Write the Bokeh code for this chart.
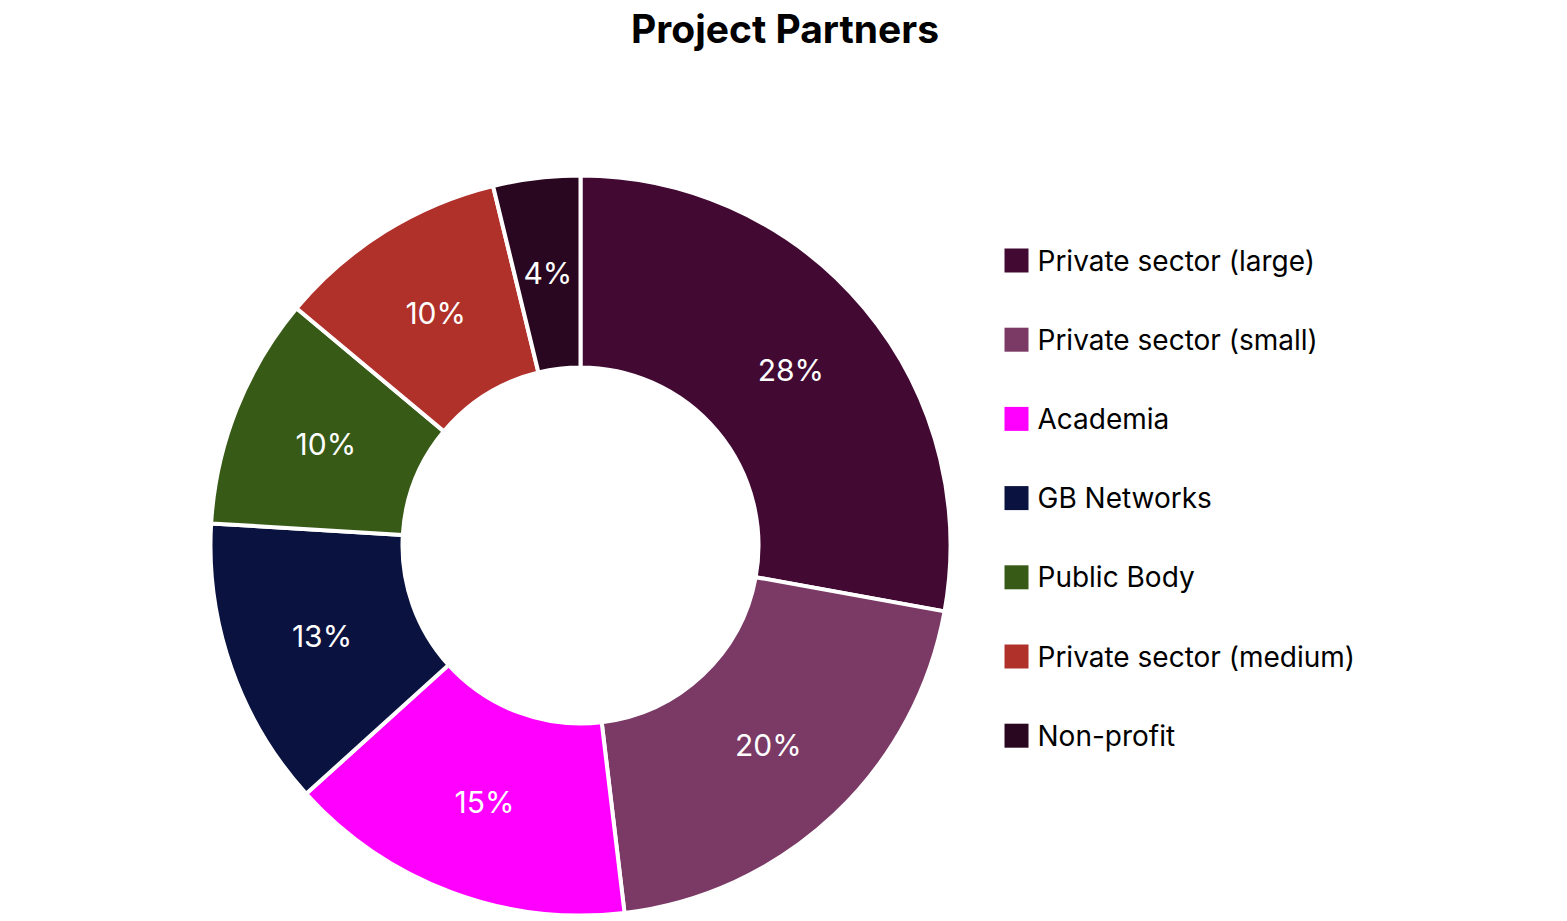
import math
from bokeh.plotting import figure
from bokeh.models import ColumnDataSource, Range1d
from bokeh.core.properties import value
from bokeh.embed import file_html
from bokeh.resources import INLINE

# datos
categorias = ["Private sector (large)", "Private sector (small)", "Academia",
              "GB Networks", "Public Body", "Private sector (medium)", "Non-profit"]
cantidades = [22, 16, 12, 10, 8, 8, 3]
colores = ["#420a33", "#7a3a65", "#ff00ff", "#0a1240", "#385a17", "#b0302a", "#2a0720"]
titulo = "Project Partners"

FUENTE = "Inter"
W, H = 1567, 921
cx, cy = 580, H - 545       # centro del anillo
r_in, r_out = 178, 370

total = sum(cantidades)
inicio, fin, medio, etiquetas = [], [], [], []
acum = 0
for c in cantidades:
    a0 = math.pi / 2 - 2 * math.pi * acum / total
    acum += c
    a1 = math.pi / 2 - 2 * math.pi * acum / total
    inicio.append(a0)
    fin.append(a1)
    medio.append((a0 + a1) / 2)
    etiquetas.append(f"{round(c / total * 100)}%")

r_lab = (r_in + r_out) / 2
src = ColumnDataSource(dict(
    cat=categorias, color=colores, start=inicio, end=fin, lab=etiquetas,
    lx=[cx + r_lab * math.cos(m) for m in medio],
    ly=[cy + r_lab * math.sin(m) for m in medio],
    # leyenda
    gx=[1016] * len(categorias),
    gy=[H - 260 - 79.2 * i for i in range(len(categorias))],
    tx=[1037] * len(categorias),
))

p = figure(width=W, height=H, x_range=Range1d(0, W), y_range=Range1d(0, H),
           output_backend="svg", toolbar_location=None, min_border=0)
p.axis.visible = False
p.grid.visible = False
p.outline_line_color = None

p.annular_wedge(x=cx, y=cy, inner_radius=r_in, outer_radius=r_out,
                start_angle="start", end_angle="end", direction="clock",
                fill_color="color", line_color="white", line_width=4,
                source=src)

p.text(x="lx", y="ly", text="lab", source=src, text_color="white",
       text_font=value(FUENTE), text_font_size="30px",
       text_align="center", text_baseline="middle")

# titulo
p.text(x=[W / 2 + 1], y=[H - 28], text=[titulo], text_font=value(FUENTE),
       text_font_size="39px", text_font_style="bold", text_color="black",
       text_align="center", text_baseline="middle")

# leyenda
p.scatter(x="gx", y="gy", marker="square", size=24, fill_color="color",
          line_color=None, source=src)
p.text(x="tx", y="gy", text="cat", source=src, text_color="black",
       text_font=value(FUENTE), text_font_size="28px",
       text_align="left", text_baseline="middle")

open("out.html", "w").write(file_html(p, INLINE))
